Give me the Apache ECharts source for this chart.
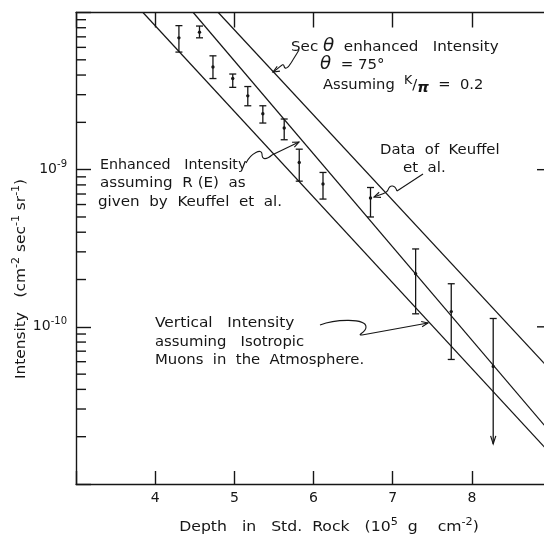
<!DOCTYPE html>
<html>
<head>
<meta charset="utf-8">
<script src="https://cdn.jsdelivr.net/npm/echarts@6/dist/echarts.min.js"></script>
<style>
  html, body { margin: 0; padding: 0; background: #fff; }
  #chart { width: 544px; height: 535px; }
</style>
</head>
<body>
<div id="chart"></div>
<script>
// Keuffel et al. measurements: depth (10^5 g cm^-2), intensity and error limits
const depth      = [4.30, 4.56, 4.73, 4.98, 5.17, 5.36, 5.63, 5.82, 6.12, 6.72, 7.29, 7.74, 8.27];
const intensity  = [6.9e-9, 7.5e-9, 4.5e-9, 3.8e-9, 2.95e-9, 2.27e-9, 1.84e-9, 1.11e-9, 8.1e-10, 6.6e-10, 2.18e-10, 1.25e-10, 5.6e-11];
const errHigh    = [8.25e-9, 8.2e-9, 5.3e-9, 4.06e-9, 3.38e-9, 2.55e-9, 2.1e-9, 1.35e-9, 9.6e-10, 7.7e-10, 3.13e-10, 1.88e-10, 1.13e-10];
const errLow     = [5.6e-9, 6.9e-9, 3.8e-9, 3.34e-9, 2.55e-9, 1.98e-9, 1.55e-9, 8.45e-10, 6.5e-10, 5.0e-10, 1.21e-10, 6.2e-11, 1.8e-11];
// 1 = lower error open-ended (drawn as an arrow)
const openLow    = [0, 0, 0, 0, 0, 0, 0, 0, 0, 0, 0, 0, 1];

// Predicted curves (straight lines on the log scale)
const verticalDepth     = [3.846, 9.0];
const verticalIntensity = [1e-8, 1.55e-11];
const rEnhancedDepth     = [4.481, 9.0];
const rEnhancedIntensity = [1e-8, 2.11e-11];
const secEnhancedDepth     = [4.797, 9.0];
const secEnhancedIntensity = [1e-8, 5.26e-11];

// Axis ticks
const depthTicks = [4, 5, 6, 7, 8];
const labelledDecades = [-9, -10];
const minorMantissas = [2, 3, 4, 5, 6, 7, 8, 9];
const minorDecades = [1e-11, 1e-10, 1e-9];
const rightMajorTicks = [1e-9, 1e-10];

const FONT = '"DejaVu Sans", "Liberation Sans", sans-serif';
const INK = '#161616';

const pairs = (xs, ys) => xs.map((x, i) => [x, ys[i]]);
// [depth edge, intensity, inward tick length in px]
const extraTicks = [];
minorDecades.forEach(d => minorMantissas.forEach(m => extraTicks.push([3, m * d, 10])));
rightMajorTicks.forEach(v => extraTicks.push([9, v, -14]));

const chart = echarts.init(document.getElementById('chart'), null, { renderer: 'canvas' });

const lineSeries = (name, xs, ys) => ({
  name, type: 'line', data: pairs(xs, ys),
  showSymbol: false, symbol: 'none', silent: true,
  lineStyle: { color: INK, width: 1.2 }, clip: true, z: 3
});

function arrowHead(tip, from, len, spread) {
  const dx = from[0] - tip[0], dy = from[1] - tip[1];
  const a = Math.atan2(dy, dx);
  const p1 = [tip[0] + len * Math.cos(a + spread), tip[1] + len * Math.sin(a + spread)];
  const p2 = [tip[0] + len * Math.cos(a - spread), tip[1] + len * Math.sin(a - spread)];
  return { type: 'polyline', shape: { points: [p1, tip, p2] }, style: { stroke: INK, lineWidth: 1.1, fill: null }, z: 10 };
}
const bez = (p0, c1, c2, p1) => ({
  type: 'bezierCurve',
  shape: { x1: p0[0], y1: p0[1], cpx1: c1[0], cpy1: c1[1], cpx2: c2[0], cpy2: c2[1], x2: p1[0], y2: p1[1] },
  style: { stroke: INK, lineWidth: 1.1, fill: null }, z: 10
});
const seg = (p0, p1) => ({
  type: 'line', shape: { x1: p0[0], y1: p0[1], x2: p1[0], y2: p1[1] },
  style: { stroke: INK, lineWidth: 1.1 }, z: 10
});

const supStyle = { fontSize: 10, fontFamily: FONT, verticalAlign: 'top', fill: INK, color: INK };
const baseRich = {
  sup: supStyle,
  th: { fontSize: 17, fontFamily: FONT, fontStyle: 'italic', fill: INK, color: INK },
  k: { fontSize: 12, fontFamily: FONT, verticalAlign: 'top', fill: INK, color: INK },
  sl: { fontSize: 14, fontFamily: FONT, fill: INK, color: INK },
  pi: { fontSize: 14, fontFamily: FONT, fontStyle: 'italic', fontWeight: 'bold', verticalAlign: 'bottom', fill: INK, color: INK }
};
const label = (x, y, text, sx = 1.07) => ({
  type: 'text', x, y, z: 10, scaleX: sx,
  style: {
    text, font: '14px ' + FONT, fill: INK, lineHeight: 20, rich: baseRich,
    align: 'left', textAlign: 'left', verticalAlign: 'middle', textVerticalAlign: 'middle'
  }
});

const annotations = [
  label(291, 47, 'Sec {th|θ}  enhanced   Intensity', 1.08),
  label(320, 65, '{th|θ}  = 75°'),
  label(323, 85, 'Assuming  {k|K}{sl|/}{pi|π}  =  0.2', 1.05),
  label(380, 150, 'Data  of  Keuffel', 1.06),
  label(403, 168, 'et  al.'),
  label(100, 165, 'Enhanced   Intensity', 1.02),
  label(100, 183, 'assuming  R (E)  as', 1.08),
  label(98, 202, 'given  by  Keuffel  et  al.', 1.08),
  label(155, 323, 'Vertical   Intensity', 1.1),
  label(155, 342, 'assuming   Isotropic', 1.06),
  label(155, 360, 'Muons  in  the  Atmosphere.', 1.06),

  // Sec θ arrow
  seg([299, 50], [291, 63]),
  bez([291, 63], [288, 68], [285, 70], [284, 66]),
  bez([284, 66], [283, 62], [280, 68], [273, 72]),
  arrowHead([273, 72], [279, 68.5], 7, 0.4),
  // Enhanced intensity arrow
  bez([246, 163], [251, 153], [262, 148], [262, 154]),
  bez([262, 154], [262, 160], [266, 160], [272, 155]),
  seg([272, 155], [299, 142]),
  arrowHead([299, 142], [290, 146.3], 7, 0.4),
  // Keuffel data arrow
  seg([423, 174], [397, 191]),
  bez([397, 191], [395, 185], [390, 184], [388, 190]),
  bez([388, 190], [386, 194], [381, 194], [374, 197]),
  arrowHead([374, 197], [381, 194.5], 7, 0.4),
  // Vertical intensity arrow
  bez([320, 325], [335, 319], [366, 318], [366, 327]),
  bez([366, 327], [366, 333], [356, 335], [362, 335]),
  seg([362, 335], [428, 323]),
  arrowHead([428, 323], [419, 324.6], 7, 0.4),

  // Axis titles
  {
    type: 'text', x: 329, y: 527, z: 10, scaleX: 1.12,
    style: {
      text: 'Depth   in   Std.  Rock   (10{sup|5}  g    cm{sup|-2})',
      font: '14px ' + FONT, fill: INK, lineHeight: 20, rich: baseRich,
      align: 'center', textAlign: 'center', verticalAlign: 'middle', textVerticalAlign: 'middle'
    }
  },
  {
    type: 'text', x: 21, y: 279, rotation: Math.PI / 2, z: 10, scaleX: 1.1,
    style: {
      text: 'Intensity   (cm{sup|-2} sec{sup|-1} sr{sup|-1})',
      font: '14px ' + FONT, fill: INK, lineHeight: 20, rich: baseRich,
      align: 'center', textAlign: 'center', verticalAlign: 'middle', textVerticalAlign: 'middle'
    }
  }
];

const axisLineStyle = { color: INK, width: 1.4 };

const option = {
  animation: false,
  backgroundColor: '#fff',
  grid: { left: 76, top: 12.5, width: 475, height: 471.5, containLabel: false, outerBoundsMode: 'none' },
  xAxis: [
    {
      type: 'value', min: 3, max: 9, interval: 1, position: 'bottom',
      axisLine: { show: true, onZero: false, lineStyle: axisLineStyle },
      axisTick: { show: true, inside: true, length: 13, lineStyle: axisLineStyle },
      axisLabel: {
        show: true, margin: 7, fontSize: 14, fontFamily: FONT, color: INK,
        formatter: v => (depthTicks.indexOf(v) >= 0 ? String(v) : '')
      },
      splitLine: { show: false }
    },
    {
      type: 'value', min: 3, max: 9, interval: 1, position: 'top',
      axisLine: { show: true, onZero: false, lineStyle: axisLineStyle },
      axisTick: { show: true, inside: true, length: 15, lineStyle: axisLineStyle },
      axisLabel: { show: false },
      splitLine: { show: false }
    }
  ],
  yAxis: [
    {
      type: 'log', logBase: 10, min: 1e-11, max: 1e-8, position: 'left',
      axisLine: { show: true, onZero: false, lineStyle: axisLineStyle },
      axisTick: { show: true, inside: true, length: 15, lineStyle: axisLineStyle },
      axisLabel: {
        show: true, margin: 9, fontFamily: FONT, color: INK,
        formatter: v => {
          const e = Math.round(Math.log10(v));
          return labelledDecades.indexOf(e) >= 0 ? '{b|10}{e|' + e + '}' : '';
        },
        rich: {
          b: { fontSize: 14, fontFamily: FONT, color: INK, lineHeight: 20 },
          e: { fontSize: 10, fontFamily: FONT, color: INK, verticalAlign: 'top' }
        }
      },
      splitLine: { show: false }
    }
  ],
  series: [
    lineSeries('Vertical intensity', verticalDepth, verticalIntensity),
    lineSeries('Enhanced intensity, R(E)', rEnhancedDepth, rEnhancedIntensity),
    lineSeries('Sec θ enhanced intensity', secEnhancedDepth, secEnhancedIntensity),
    {
      name: 'Extra ticks', type: 'custom', silent: true, z: 4, clip: false,
      data: extraTicks,
      encode: { x: 0, y: 1 },
      renderItem: (params, api) => {
        const p = api.coord([api.value(0), api.value(1)]);
        return {
          type: 'line',
          shape: { x1: p[0], y1: p[1], x2: p[0] + api.value(2), y2: p[1] },
          style: { stroke: INK, lineWidth: 1.4 }
        };
      }
    },
    {
      name: 'Keuffel et al.', type: 'custom', silent: true, z: 5,
      data: depth.map((d, i) => [d, intensity[i], errLow[i], errHigh[i], openLow[i]]),
      encode: { x: 0, y: 1 },
      renderItem: (params, api) => {
        const x = api.value(0);
        const c = api.coord([x, api.value(1)]);
        const lo = api.coord([x, api.value(2)]);
        const hi = api.coord([x, api.value(3)]);
        const w = 3.5;
        const st = { stroke: INK, lineWidth: 1.3 };
        const children = [
          { type: 'line', shape: { x1: c[0], y1: hi[1], x2: c[0], y2: lo[1] }, style: st },
          { type: 'line', shape: { x1: c[0] - w, y1: hi[1], x2: c[0] + w, y2: hi[1] }, style: st }
        ];
        if (api.value(4)) {
          children.push({
            type: 'polyline',
            shape: { points: [[c[0] - 2.6, lo[1] - 8], [c[0], lo[1]], [c[0] + 2.6, lo[1] - 8]] },
            style: { stroke: INK, lineWidth: 1.2, fill: null }
          });
        } else {
          children.push({ type: 'line', shape: { x1: c[0] - w, y1: lo[1], x2: c[0] + w, y2: lo[1] }, style: st });
        }
        children.push({ type: 'circle', shape: { cx: c[0], cy: c[1], r: 1.7 }, style: { fill: INK } });
        return { type: 'group', children };
      }
    }
  ],
  graphic: { elements: annotations }
};

chart.setOption(option);
</script>
</body>
</html>
